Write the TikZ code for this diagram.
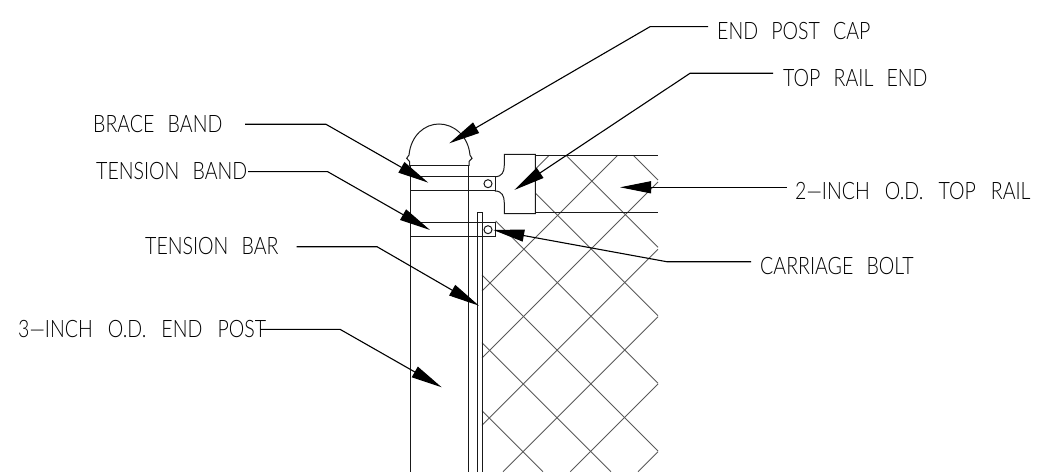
\documentclass[tikz,border=0pt]{standalone}
\usepackage{fontspec}
\setmainfont[FakeStretch=0.815]{Lato Light}
\usetikzlibrary{arrows.meta}
\tikzset{
	part/.style={line width=1pt, black!90},
	wire/.style={line width=0.9pt, black!65},
	leader/.style={line width=1.1pt, black, -{Triangle[length=31pt, width=12pt]}},
	callout/.style={inner sep=0pt, font=\fontsize{24}{24}\selectfont}
}
\newcommand{\gap}{\hspace{0.55em}}
\newcommand{\widegap}{\hspace{0.63em}}
\begin{document}
\begin{tikzpicture}[x=1pt, y=-1pt]
		\useasboundingbox (0, 0) rectangle (1045, 476);
		
		%%%%% mesh %%%%%
		\draw[wire] (633.3, 155.3) -- (658, 180);
		\draw[wire] (566, 155.3) -- (658, 247.3);
		\draw[wire] (535.3, 193) -- (658, 315.7);
		\draw[wire] (495.7, 221) -- (658, 383.3);
		\draw[wire] (482, 275) -- (658, 451);
		\draw[wire] (482, 342.7) -- (611, 471.7);
		\draw[wire] (482, 410.7) -- (543, 471.7);
		\draw[wire] (549.3, 155.3) -- (535.3, 169.3);
		\draw[wire] (617.7, 155.3) -- (482, 291);
		\draw[wire] (658, 182) -- (482, 358);
		\draw[wire] (658, 249.3) -- (482, 425.3);
		\draw[wire] (658, 316.7) -- (503, 471.7);
		\draw[wire] (658, 384) -- (570.3, 471.7);
		\draw[wire] (658, 451.7) -- (638, 471.7);
		
		%%%%% rail %%%%%
		\draw[part] (535.3, 155.3) -- (658, 155.3);
		\draw[part] (535.3, 213) -- (658, 213);
		
		%%%%% post %%%%%
		\draw[part] (410.5, 166) -- (410.5, 471.7);
		\draw[part] (468, 166) -- (468, 471.7);
		\draw[part] (477.7, 471.7) -- (477.7, 212.5) -- (482, 212.5) -- (482, 471.7);
		\draw[part] (409.5, 166) -- (469, 166);
		\draw[part] (409.5, 166) -- (409.5, 161.5) -- (406.7, 158.3) -- (409, 155)
			.. controls (411, 135) and (425, 124) .. (439, 124)
			.. controls (453, 124) and (468, 135) .. (470, 155)
			-- (472, 158.3) -- (469, 161.5) -- (469, 166);
		
		%%%%% bands %%%%%
		\draw[part] (410.5, 176.7) -- (495, 176.7) -- (495, 191) -- (410.5, 191);
		\draw[part] (410.5, 222.3) -- (495, 222.3) -- (495, 236.3) -- (410.5, 236.3);
		\draw[part] (488, 183.7) circle (4);
		\draw[part] (488, 229.7) circle (4);
		
		%%%%% rail end %%%%%
		\draw[part] (495, 176.7) .. controls (502, 176.7) and (504.3, 172) .. (504.3, 165)
			-- (504.3, 154.5) -- (535.3, 154.5) -- (535.3, 213.7) -- (504.3, 213.7) -- (504.3, 203)
			.. controls (504.3, 196) and (502, 191) .. (495, 191);
		
		%%%%% labels %%%%%
		\node[callout, anchor=west] (capLabel) at (717, 31.5) {END\gap POST\gap CAP};
		\node[callout, anchor=west] (endLabel) at (783, 78) {TOP\gap RAIL\gap END};
		\node[callout, anchor=west] (railLabel) at (795, 191.5) {2---INCH\widegap O.D.\widegap TOP\widegap RAIL};
		\node[callout, anchor=west] (boltLabel) at (760, 266) {CARRIAGE\gap BOLT};
		\node[callout, anchor=west] (braceLabel) at (93, 124.5) {BRACE\gap BAND};
		\node[callout, anchor=west] (bandLabel) at (96, 171.3) {TENSION\gap BAND};
		\node[callout, anchor=west] (barLabel) at (145, 246) {TENSION\gap BAR};
		\node[callout, anchor=west] (postLabel) at (18, 329) {3---INCH\widegap O.D.\widegap END\widegap POST};
		
		%%%%% leaders %%%%%
		\draw[leader] (708, 26.7) -- (650, 26.7) -- (449.3, 143.3);
		\draw[leader] (773, 73.3) -- (690, 73.3) -- (514.3, 190);
		\draw[leader] (786.7, 187.3) -- (620, 187.3);
		\draw[leader] (751, 261.7) -- (666.7, 261.7) -- (493.3, 230);
		\draw[leader] (245, 124.3) -- (326, 124.3) -- (428.3, 182.7);
		\draw[leader] (248, 171.7) -- (327.7, 171.7) -- (430, 230);
		\draw[leader] (296.7, 246.7) -- (377, 246.7) -- (479, 305.7);
		\draw[leader] (260, 329.3) -- (340, 329.3) -- (441.7, 387.3);
	\end{tikzpicture}
\end{document}
